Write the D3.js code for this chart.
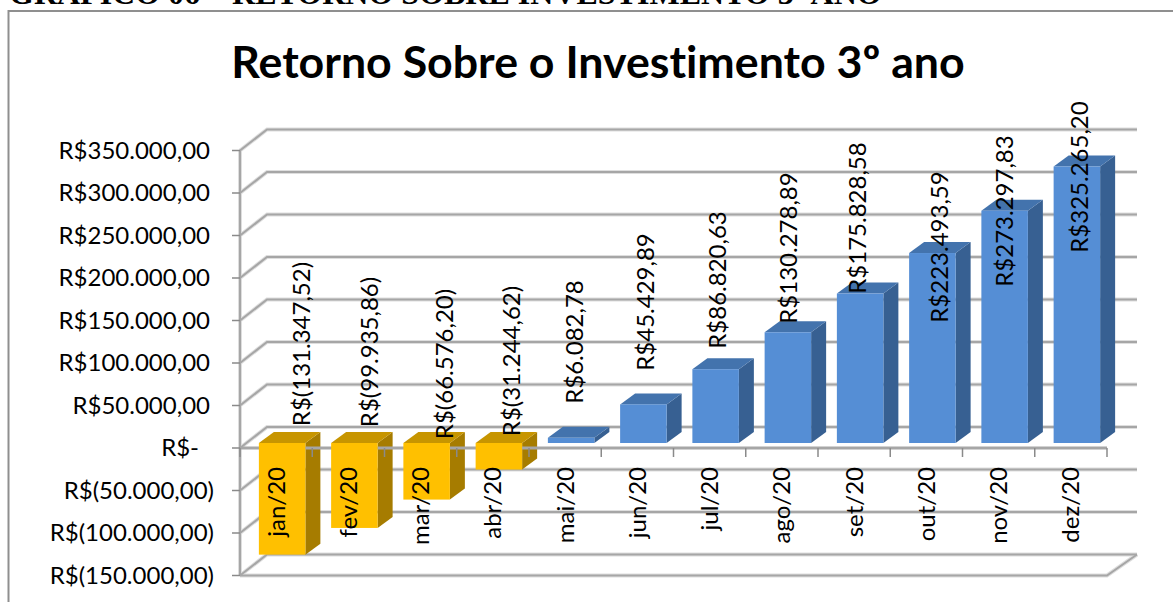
<!DOCTYPE html>
<html>
<head>
<meta charset="utf-8">
<script src="https://cdn.jsdelivr.net/npm/d3@7"></script>
<style>
  html, body { margin: 0; padding: 0; background: #fff; overflow: hidden; }
  text { font-family: Lato, "Open Sans", sans-serif; fill: #000; font-variant-ligatures: none; }
</style>
</head>
<body>
<script>
const months = ["jan/20", "fev/20", "mar/20", "abr/20", "mai/20", "jun/20", "jul/20", "ago/20", "set/20", "out/20", "nov/20", "dez/20"];
const retorno = [-131347.52, -99935.86, -66576.2, -31244.62, 6082.78, 45429.89, 86820.63, 130278.89, 175828.58, 223493.59, 273297.83, 325265.2];
const retornoLabels = ["R$(131.347,52)", "R$(99.935,86)", "R$(66.576,20)", "R$(31.244,62)", "R$6.082,78", "R$45.429,89", "R$86.820,63", "R$130.278,89", "R$175.828,58", "R$223.493,59", "R$273.297,83", "R$325.265,20"];
const yTicks = [350000, 300000, 250000, 200000, 150000, 100000, 50000, 0, -50000, -100000, -150000];
const yTickLabels = ["R$350.000,00", "R$300.000,00", "R$250.000,00", "R$200.000,00", "R$150.000,00", "R$100.000,00", "R$50.000,00", "R$-", "R$(50.000,00)", "R$(100.000,00)", "R$(150.000,00)"];

const width = 1173;
const height = 602;
const labelSize = "24px";

// 3d look: how far the back wall and the bars sit from the front plane
const depth = { x: 27, y: -21 };
const barShift = { x: 6, y: -5 };
const barDepth = { x: 15, y: -11 };
const barWidth = 46.5;

// the data labels were dragged by hand in the original: [x from bar centre, y of label centre]
const labelPlace = [[19, 344], [15, 352], [18, 364], [13, 361], [3, 342], [2, 302], [2, 280], [1, 248], [-2.5, 218], [7, 247], [-0.5, 211], [3, 177]];

const svg = d3.select("body").append("svg").attr("width", width).attr("height", height);

const x = d3.scaleBand().domain(months).range([240, 1107]);
const y = d3.scaleLinear().domain([-150000, 350000]).range([575.5, 150.5]);

// heading of the page, cut off by the top of the crop
svg.append("text")
  .attr("x", 9)
  .attr("y", 4)
  .style("font-family", "Liberation Serif")
  .style("font-weight", "bold")
  .style("font-size", "32px")
  .text("GRÁFICO 06 – RETORNO SOBRE INVESTIMENTO 3º ANO");

// chart frame, only left and top are inside the crop
svg.append("path")
  .attr("d", d3.line()([[8.5, height], [8.5, 11], [width, 11]]))
  .attr("fill", "none")
  .attr("stroke", "#8f8f8f")
  .attr("stroke-width", 2);

svg.append("text")
  .attr("x", 598)
  .attr("y", 78)
  .attr("text-anchor", "middle")
  .style("font-weight", "bold")
  .style("font-size", "44.7px")
  .text("Retorno Sobre o Investimento 3º ano");

const gridColor = "#a6a6a6";

// back wall and left wall grid, pale pass first for the soft edge of the lines
[["#dedede", 4], [gridColor, 2]].forEach(([color, w]) => {
  const grid = svg.append("g").attr("fill", "none").attr("stroke", color).attr("stroke-width", w);
  yTicks.forEach((t) => {
    const yy = y(t);
    grid.append("path")
      .attr("d", d3.line()([[240, yy], [240 + depth.x, yy + depth.y], [1107 + depth.x + 3, yy + depth.y]]));
  });
  // floor, front and right edge
  grid.append("path")
    .attr("d", d3.line()([[240, y(-150000)], [1107, y(-150000)], [1107 + depth.x + 3, y(-150000) + depth.y]]));
  grid.append("line")
    .attr("x1", 240).attr("x2", 240)
    .attr("y1", y(350000)).attr("y2", y(-150000));
});

const zero = y(0) + barShift.y;

function barX(d) {
  return x(d) + x.bandwidth() / 2 + barShift.x - barWidth / 2;
}

const barColors = (v) =>
  v < 0
    ? { front: "#ffc000", side: "#a67c00", top: "#c79500" }
    : { front: "#558ed5", side: "#376092", top: "#4373ad" };

const bars = svg.append("g");
const sides = bars.append("g");
const axisG = bars.append("g");
const fronts = bars.append("g");

months.forEach((m, i) => {
  const v = retorno[i];
  const x0 = barX(m);
  const x1 = x0 + barWidth;
  const yTop = Math.min(zero, y(v) + barShift.y);
  const yBot = Math.max(zero, y(v) + barShift.y);
  const c = barColors(v);

  sides.append("path")
    .attr("fill", c.side)
    .attr("d", d3.line()([[x1, yTop], [x1 + barDepth.x, yTop + barDepth.y], [x1 + barDepth.x, yBot + barDepth.y], [x1, yBot]]) + "Z");
  sides.append("path")
    .attr("fill", c.top)
    .attr("d", d3.line()([[x0, yTop], [x0 + barDepth.x, yTop + barDepth.y], [x1 + barDepth.x, yTop + barDepth.y], [x1, yTop]]) + "Z");
  fronts.append("rect")
    .attr("x", x0)
    .attr("y", yTop)
    .attr("width", barWidth)
    .attr("height", yBot - yTop)
    .attr("fill", c.front);
});

// zero line and ticks go over the bar sides but under the fronts
axisG.append("line")
  .attr("x1", 240).attr("x2", 1107)
  .attr("y1", y(0)).attr("y2", y(0))
  .attr("stroke", gridColor).attr("stroke-width", 3);
const tickColor = "#8a8a8a";
d3.range(months.length + 1).forEach((i) => {
  const tx = 240 + i * x.step();
  axisG.append("line")
    .attr("x1", tx).attr("x2", tx)
    .attr("y1", y(0)).attr("y2", y(0) + 9)
    .attr("stroke", tickColor).attr("stroke-width", 1.5);
});
yTicks.forEach((t) => {
  axisG.append("line")
    .attr("x1", 232).attr("x2", 240)
    .attr("y1", y(t)).attr("y2", y(t))
    .attr("stroke", tickColor).attr("stroke-width", 1.5);
});

// value axis labels, accounting format leaves room for the bracket on positives
svg.append("g")
  .selectAll("text")
  .data(yTicks)
  .join("text")
  .attr("x", (d) => (d < 0 ? 214 : d > 0 ? 210 : 199))
  .attr("y", (d) => y(d))
  .attr("dy", "0.35em")
  .attr("text-anchor", "end")
  .style("font-size", labelSize)
  .text((d, i) => yTickLabels[i]);

// month labels, rotated
svg.append("g")
  .selectAll("text")
  .data(months)
  .join("text")
  .attr("transform", (d) => `translate(${x(d) + x.bandwidth() / 2},467) rotate(-90)`)
  .attr("dy", "0.35em")
  .attr("text-anchor", "end")
  .style("font-size", labelSize)
  .text((d) => d);

// value labels, rotated
svg.append("g")
  .selectAll("text")
  .data(retornoLabels)
  .join("text")
  .attr("transform", (d, i) => {
    const cx = barX(months[i]) + barWidth / 2 + labelPlace[i][0];
    return `translate(${cx},${labelPlace[i][1]}) rotate(-90)`;
  })
  .attr("dy", "0.35em")
  .attr("text-anchor", "middle")
  .style("font-size", labelSize)
  .text((d) => d);
</script>
</body>
</html>
